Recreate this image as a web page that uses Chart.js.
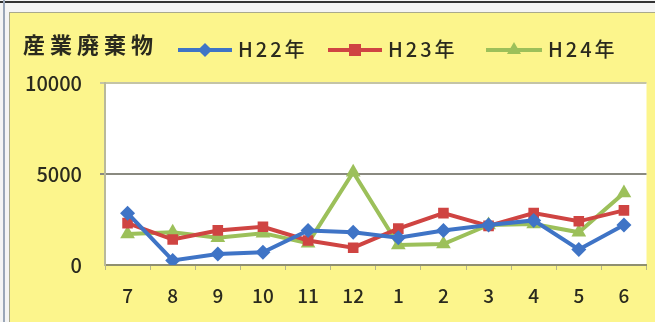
<!DOCTYPE html>
<html>
<head>
<meta charset="utf-8">
<script src="https://cdn.jsdelivr.net/npm/chart.js@4"></script>
<style>
  html, body { margin: 0; padding: 0; }
  body { width: 655px; height: 322px; background: #f4f4f4; position: relative; overflow: hidden;
         font-family: "Noto Sans CJK JP", "Noto Sans", sans-serif; }
  #topline { position: absolute; left: 0; top: 1px; width: 655px; height: 2px; background: #333; }
  #leftline { position: absolute; left: 3px; top: 0; width: 2px; height: 322px; background: #9aa6b8; }
  #panel { position: absolute; left: 9px; top: 12px; width: 660px; height: 320px;
           background: #fcf58c; border: 1px solid #a9a98c; }
  #chart { position: absolute; left: 0; top: 0; }
  #title { position: absolute; left: 23px; top: 28px; font-size: 22px; font-weight: bold; color: #2a2a1e;
           letter-spacing: 5px; line-height: 30px; }
  .item { position: absolute; top: 35px; font-size: 20px; font-weight: 500; color: #2a2a1e; letter-spacing: 3px; line-height: 28px; }
  .swatch { position: absolute; top: 48px; height: 4px; }
  .mark { position: absolute; }
</style>
</head>
<body>
<div id="topline"></div>
<div id="leftline"></div>
<div id="panel"></div>
<canvas id="chart" width="655" height="322"></canvas>
<div id="title">産業廃棄物</div>
<div id="legend"></div>
<script>
const months = ["7", "8", "9", "10", "11", "12", "1", "2", "3", "4", "5", "6"];
const seriesNames = ["H22年", "H23年", "H24年"];
const h22 = [2850, 250, 600, 700, 1900, 1800, 1500, 1900, 2200, 2450, 850, 2200];
const h23 = [2300, 1400, 1900, 2100, 1350, 950, 2000, 2850, 2150, 2850, 2400, 3000];
const h24 = [1700, 1800, 1500, 1750, 1200, 5100, 1100, 1150, 2200, 2250, 1800, 3950];
const yTicks = [0, 5000, 10000];

const colors = ["#3f74c6", "#cf4442", "#9cc05a"];
const styles = ["rectRot", "rect", "triangle"];

// legend in html, laid out like the excel one
const legendPos = [[178, 238], [328, 388], [486, 548]];
const legend = document.getElementById("legend");
seriesNames.forEach((name, i) => {
  const [lx, tx] = legendPos[i];
  legend.innerHTML += `<div class="swatch" style="left:${lx}px;width:${tx - lx - 6}px;background:${colors[i]}"></div>`;
  const cx = lx + (tx - lx - 6) / 2;
  if (i === 0) {
    legend.innerHTML += `<div class="mark" style="left:${cx - 5}px;top:45px;width:10px;height:10px;background:${colors[i]};transform:rotate(45deg)"></div>`;
  } else if (i === 1) {
    legend.innerHTML += `<div class="mark" style="left:${cx - 6}px;top:44px;width:12px;height:12px;background:${colors[i]}"></div>`;
  } else {
    legend.innerHTML += `<div class="mark" style="left:${cx - 7}px;top:42px;width:0;height:0;border-left:7px solid transparent;border-right:7px solid transparent;border-bottom:12px solid ${colors[i]}"></div>`;
  }
  legend.innerHTML += `<div class="item" style="left:${tx}px">${name}</div>`;
});

const plotBackground = {
  id: "plotBackground",
  beforeDraw(chart) {
    const { ctx, chartArea } = chart;
    ctx.save();
    ctx.fillStyle = "#ffffff";
    ctx.fillRect(chartArea.left, chartArea.top, chartArea.right - chartArea.left, chartArea.bottom - chartArea.top);
    ctx.restore();
  },
};

new Chart(document.getElementById("chart"), {
  type: "line",
  data: {
    labels: months,
    datasets: [h22, h23, h24].map((values, i) => ({
      label: seriesNames[i],
      data: values,
      borderColor: colors[i],
      backgroundColor: colors[i],
      borderWidth: 4,
      pointStyle: styles[i],
      pointRadius: i === 2 ? 8.5 : 7.5,
      pointBorderWidth: 0,
      tension: 0,
    })),
  },
  plugins: [plotBackground],
  options: {
    responsive: false,
    animation: false,
    layout: { padding: { left: 10, right: 5, top: 83, bottom: 10 } },
    plugins: { legend: { display: false }, tooltip: { enabled: false } },
    scales: {
      x: {
        offset: true,
        grid: { offset: true, drawOnChartArea: false, tickLength: 5, color: "#b5b58a" },
        border: { color: "#8f8f70", width: 2 },
        ticks: { color: "#2a2a1e", padding: 14, font: { family: "Noto Sans CJK JP", size: 19, weight: 500 } },
        afterFit(scale) { scale.height = 47; },
      },
      y: {
        min: 0,
        max: 10000,
        afterBuildTicks(scale) { scale.ticks = yTicks.map((value) => ({ value })); },
        grid: {
          color: (c) => {
            if (!c.tick || c.tick.value === 0) return "rgba(0,0,0,0)";
            return c.tick.value === 10000 ? "#c4c4a6" : "#8a8a80";
          },
          lineWidth: 2,
          tickLength: 5,
        },
        border: { color: "#b9b99a", width: 2 },
        ticks: {
          color: "#2a2a1e",
          padding: 18,
          font: { family: "Noto Sans CJK JP", size: 20, weight: 500 },
          callback: (value) => String(value),
        },
        afterFit(scale) { scale.width = 95; },
      },
    },
  },
});
</script>
</body>
</html>
